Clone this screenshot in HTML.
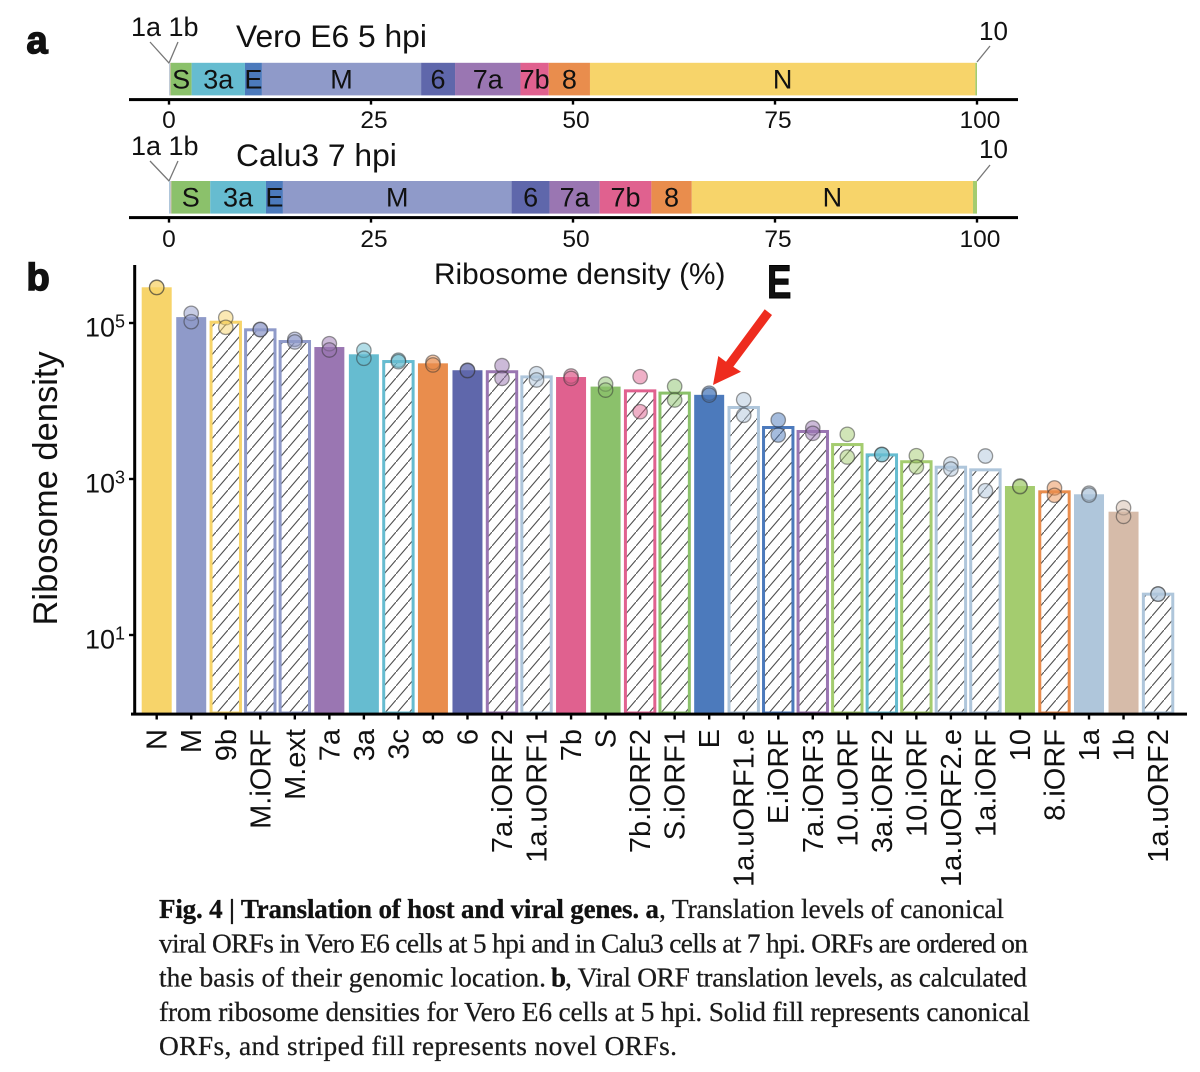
<!DOCTYPE html>
<html lang="en">
<head>
<meta charset="utf-8">
<title>Translation of host and viral genes</title>
<style>
html,body{margin:0;padding:0;background:#fff;}
svg{display:block;}
text{font-family:"Liberation Sans",sans-serif;fill:#111;}
.cap{font-family:"Liberation Serif",serif;font-size:27.4px;fill:#1a1a1a;stroke:#1a1a1a;stroke-width:.25px;}
.capb{font-family:"Liberation Serif",serif;font-size:27px;font-weight:bold;fill:#111;stroke:#111;stroke-width:.3px;}
</style>
</head>
<body>
<svg id="fig" xmlns="http://www.w3.org/2000/svg" width="1200" height="1072" viewBox="0 0 1200 1072">
<defs>
<pattern id="hatch" patternUnits="userSpaceOnUse" width="12" height="14">
<line x1="-1" y1="15.17" x2="13" y2="-1.17" stroke="#505050" stroke-width="1.1"></line>
</pattern>
</defs>
<rect x="0" y="0" width="1200" height="1072" fill="#fff"></rect>

<text x="26.5" y="53" font-size="38" font-weight="bold" stroke="#111" stroke-width="1.5">a</text>
<text x="26.5" y="290" font-size="38" font-weight="bold" stroke="#111" stroke-width="1.5">b</text>

<text x="236" y="47" font-size="31.8">Vero E6 5 hpi</text>
<text x="236" y="166" font-size="31.8">Calu3 7 hpi</text>

<text x="131" y="36" font-size="27">1a 1b</text>
<text x="131" y="155" font-size="27">1a 1b</text>
<text x="979" y="40" font-size="26">10</text>
<text x="979" y="158" font-size="26">10</text>

<g fill="none" stroke="#777" stroke-width="1.3">
<polyline points="150,42 169,63 178,42"></polyline>
<polyline points="150,161 169,181 178,161"></polyline>
<line x1="990" y1="46" x2="977" y2="62"></line>
<line x1="990" y1="165" x2="977" y2="181"></line>
</g>

<g id="panelA"></g>

<text x="434" y="284" font-size="29.8">Ribosome density (%)</text>

<g id="panelB"></g>

<text transform="translate(57,625.5) rotate(-90)" font-size="34.5">Ribosome density</text>

<text transform="translate(767,298) scale(0.78,1)" font-size="47" font-weight="bold" fill="#000" stroke="#000" stroke-width="1">E</text>
<polygon fill="#EE2C1E" points="713,385 718.3,356 726,361.7 764.7,309.3 772,315 733.3,366.7 741,371.7"></polygon>

<g>
<text class="capb" x="159" y="918" textLength="500">Fig. 4 | Translation of host and viral genes. a</text>
<text class="cap" x="659" y="918" textLength="345">, Translation levels of canonical</text>
<text class="cap" x="159" y="952.5" textLength="869">viral ORFs in Vero E6 cells at 5 hpi and in Calu3 cells at 7 hpi. ORFs are ordered on</text>
<text class="cap" x="159" y="986.5" textLength="387">the basis of their genomic location.</text>
<text class="capb" x="551" y="986.5">b</text>
<text class="cap" x="565" y="986.5" textLength="462">, Viral ORF translation levels, as calculated</text>
<text class="cap" x="159" y="1021" textLength="871">from ribosome densities for Vero E6 cells at 5 hpi. Solid fill represents canonical</text>
<text class="cap" x="159" y="1055" textLength="518">ORFs, and striped fill represents novel ORFs.</text>
</g>
</svg>

<script>
// ---- Panel a data: percentage of ribosome density per ORF, in genomic order ----
var genomeOrfs = ['1a','1b','S','3a','E','M','6','7a','7b','8','N','10'];
var genomeLabels = ['','','S','3a','E','M','6','7a','7b','8','N',''];
var veroShares = [0.1,0.1,2.6,6.6,2.1,19.7,4.2,8.1,3.5,5.1,47.7,0.2];
var calu3Shares = [0.2,0.1,4.8,6.9,2.1,28.3,4.7,6.2,6.4,5.0,34.8,0.5];
var shareTicks = [0,25,50,75,100];

// ---- Panel b data ----
var categories = ['N','M','9b','M.iORF','M.ext','7a','3a','3c','8','6','7a.iORF2','1a.uORF1','7b','S','7b.iORF2','S.iORF1','E','1a.uORF1.e','E.iORF','7a.iORF3','10.uORF','3a.iORF2','10.iORF','1a.uORF2.e','1a.iORF','10','8.iORF','1a','1b','1a.uORF2'];
var densities = [287000,119000,107000,85500,60500,49200,39700,33500,30400,24800,24800,21300,20300,15300,14100,13200,12000,8630,4780,4250,2890,2130,1740,1480,1370,813,716,637,381,34.9];
var replicateA = [287000,133000,117000,83000,61800,54300,44700,33300,31300,24800,28400,22400,20900,16500,20500,15400,12600,10400,5710,4510,3740,2070,1990,1560,1970,813,767,656,429,33.6];
var replicateB = [285000,104000,88100,82000,57100,45100,35300,31900,29000,24500,19500,18600,19500,13800,7290,10300,11900,6560,3660,3850,1910,2050,1430,1340,708,797,618,623,332,33.4];
var novelFlags = [0,0,1,1,1,0,0,1,0,0,1,1,0,0,1,1,0,1,1,1,1,1,1,1,1,0,1,0,0,1];
var yTickExponents = [5,3,1];

var orfColors = {
  'N':'#F7D46A','M':'#8F9AC9','9':'#F7D46A','7a':'#9A76B2','3a':'#66BCD0','3c':'#66BCD0','8':'#E98D4D',
  '6':'#5F67AB','7b':'#E0618F','S':'#8BC16B','E':'#4C7ABC','10':'#A4CC6F','1a':'#AFC6DB','1b':'#D6BBA9'
};
function colorFor(name){
  var base = name.split('.')[0];
  if (base === '9b') return orfColors['N'];
  return orfColors[base];
}

var NS = 'http://www.w3.org/2000/svg';
function mk(parent, tag, attrs, txt){
  var el = document.createElementNS(NS, tag);
  for (var k in attrs) el.setAttribute(k, attrs[k]);
  if (txt !== undefined) el.textContent = txt;
  parent.appendChild(el);
  return el;
}

// ---- Panel a axis function ----
function xShare(p){ return 169 + p * 8.08; }

function drawStack(shares, barTop, axisY, prefix, tickBaseline){
  var root = document.getElementById('panelA');
  var g = mk(root, 'g', {});
  
  
  var cum = 0;
  shares.forEach(function(s, i){
    var x0 = xShare(cum), x1 = xShare(cum + s);
    var r = mk(g, 'rect', {x:x0, y:barTop, width:x1 - x0, height:32.6, fill:orfColors[genomeOrfs[i]]});
    
    
    if (genomeLabels[i]) {
      var t = mk(g, 'text', {x:(x0 + x1) / 2, y:barTop + 25.5, 'text-anchor':'middle', 'font-size':27}, genomeLabels[i]);
      
      
    }
    cum += s;
  });
  var ax = mk(root, 'rect', {x:129, y:axisY - 1.5, width:889, height:3, fill:'#000'});
  
  
  shareTicks.forEach(function(v){
    var tk = mk(root, 'rect', {x:xShare(v) - 1.2, y:axisY, width:2.4, height:5, fill:'#000'});
    
    
    var lb = mk(root, 'text', {x:xShare(v) + (v === 0 ? 0 : 3), y:tickBaseline, 'text-anchor':'middle', 'font-size':24.5}, String(v));
    
    
  });
}
drawStack(veroShares, 62.8, 99.6, 'vero', 128);
drawStack(calu3Shares, 181, 217.6, 'calu3', 247);

// ---- Panel b axis functions ----
function xBand(i){ return 156.7 + i * 34.53; }
function yLog(v){ return 713 - 78 * Math.log10(v); }

(function(){
  var root = document.getElementById('panelB');
  var baseY = yLog(1);

  categories.forEach(function(name, i){
    var cx = xBand(i), c = colorFor(name), top = yLog(densities[i]), bar;
    if (novelFlags[i]) {
      bar = mk(root, 'rect', {x:cx - 14.7, y:top + 1.5, width:29.4, height:baseY - top - 1.5, fill:'url(#hatch)', stroke:c, 'stroke-width':3});
      
      
    } else {
      bar = mk(root, 'rect', {x:cx - 15, y:top, width:30, height:baseY - top, fill:c});
      
      
    }
  });

  categories.forEach(function(name, i){
    var cx = xBand(i), c = colorFor(name);
    [replicateA[i], replicateB[i]].forEach(function(v, j){
      var p = mk(root, 'circle', {cx:cx, cy:yLog(v), r:7.2, fill:c, 'fill-opacity':0.5, stroke:'#333', 'stroke-opacity':0.5, 'stroke-width':1.3});
      
      
    });
  });

  var xAxis = mk(root, 'rect', {x:131, y:712.6, width:1056, height:3, fill:'#000'});
  
  
  var yAxis = mk(root, 'rect', {x:133.2, y:265, width:3, height:450, fill:'#000'});
  
  

  categories.forEach(function(name, i){
    var cx = xBand(i);
    var tk = mk(root, 'rect', {x:cx - 1.2, y:715, width:2.4, height:4.5, fill:'#000'});
    
    
    var lb = mk(root, 'text', {transform:'translate(' + (cx + 10) + ',729) rotate(-90)', 'text-anchor':'end', 'font-size':29}, name);
    
    
  });

  yTickExponents.forEach(function(e){
    var y = yLog(Math.pow(10, e));
    var tk = mk(root, 'rect', {x:129, y:y - 1.2, width:5, height:2.4, fill:'#000'});
    
    
    var lb = mk(root, 'text', {x:125, y:y + 13.4, 'text-anchor':'end', 'font-size':27}, '10');
    
    
    var ts = mk(lb, 'tspan', {dy:-8.7, 'font-size':18}, String(e));
    
    
  });
})();
</script>
</body>
</html>
